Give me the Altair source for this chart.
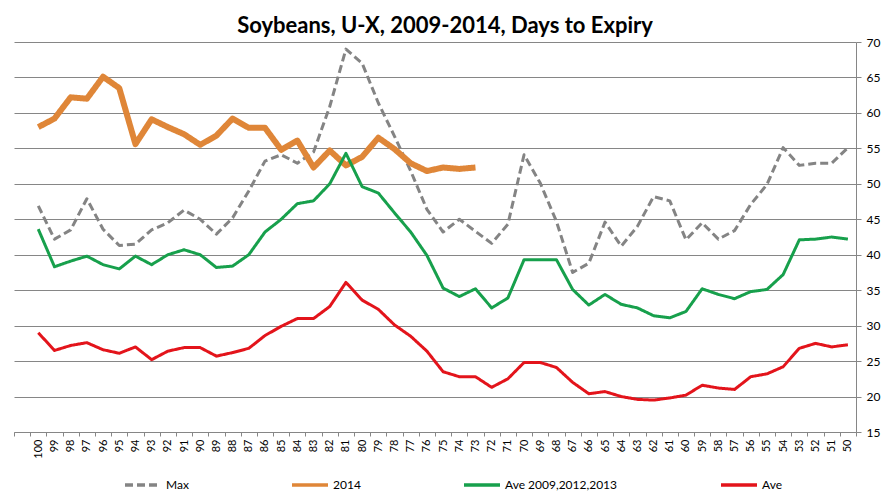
import altair as alt
import pandas as pd

days = [str(d) for d in range(100, 49, -1)]

max_vals = [46.9, 42.2, 43.5, 47.9, 43.6, 41.3, 41.5, 43.5, 44.5, 46.3, 45.0, 42.9, 45.2, 49.0, 53.2, 54.1, 52.9, 54.5,
            60.9, 69.0, 67.0, 61.4, 56.7, 51.8, 46.4, 43.2, 45.0, 43.3, 41.6, 44.3, 54.1, 50.1, 44.7, 37.5, 38.8,
            44.6, 41.2, 44.0, 48.2, 47.6, 42.1, 44.5, 42.2, 43.4, 47.1, 49.9, 55.1, 52.6, 52.9, 52.9, 55.1]

y2014_vals = [58.0, 59.2, 62.2, 62.0, 65.1, 63.5, 55.6, 59.1, 58.0, 57.0, 55.5, 56.8, 59.2, 57.9, 57.9, 54.8, 56.1, 52.3,
              54.7, 52.6, 53.8, 56.5, 54.9, 52.9, 51.8, 52.3, 52.1, 52.3]

ave3_vals = [43.6, 38.3, 39.1, 39.8, 38.6, 38.0, 39.8, 38.6, 40.0, 40.7, 40.0, 38.2, 38.4, 40.0, 43.2, 45.0, 47.2, 47.6,
             50.0, 54.3, 49.6, 48.7, 45.9, 43.2, 39.9, 35.3, 34.1, 35.2, 32.5, 33.9, 39.3, 39.3, 39.3, 35.1, 32.9,
             34.4, 33.0, 32.5, 31.4, 31.1, 32.0, 35.2, 34.4, 33.8, 34.8, 35.1, 37.2, 42.1, 42.2, 42.5, 42.2]

ave_vals = [29.0, 26.5, 27.2, 27.6, 26.6, 26.1, 27.0, 25.2, 26.4, 26.9, 26.9, 25.7, 26.2, 26.8, 28.6, 29.9, 31.0, 31.0,
            32.7, 36.1, 33.6, 32.3, 30.1, 28.5, 26.4, 23.5, 22.8, 22.8, 21.3, 22.5, 24.8, 24.8, 24.1, 22.0, 20.4,
            20.7, 20.0, 19.6, 19.5, 19.8, 20.2, 21.6, 21.2, 21.0, 22.8, 23.2, 24.2, 26.8, 27.5, 27.0, 27.3]

series_names = ["Max", "2014", "Ave 2009,2012,2013", "Ave"]
series_colors = ["#848484", "#DF8638", "#17A04C", "#E3141B"]
series_dash = [[8, 4], [1, 0], [1, 0], [1, 0]]
series_width = [3, 6, 3, 3]

rows = []
for name, w, vals in zip(series_names, series_width, [max_vals, y2014_vals, ave3_vals, ave_vals]):
    for d, v in zip(days, vals):
        rows.append({"day": d, "value": v, "series": name, "w": w})
df = pd.DataFrame(rows)

x_domain = [" "] + days

chart = alt.Chart(df).mark_line(strokeJoin="round").encode(
    x=alt.X("day:O",
            scale=alt.Scale(domain=x_domain, paddingInner=0, paddingOuter=0),
            axis=alt.Axis(title=None, labelAngle=-90, tickBand="extent", tickSize=4,
                          tickColor="#868686", domainColor="#868686", labelPadding=3,
                          labelFont="Lato", labelFontSize=11, labelColor="#000000")),
    y=alt.Y("value:Q",
            scale=alt.Scale(domain=[15, 70], nice=False, zero=False),
            axis=alt.Axis(title=None, orient="right", values=list(range(15, 71, 5)),
                          tickSize=5, tickColor="#868686", domainColor="#868686",
                          gridColor="#868686", gridWidth=1, labelPadding=5,
                          labelFont="Lato", labelFontSize=12, labelColor="#000000")),
    color=alt.Color("series:N", scale=alt.Scale(domain=series_names, range=series_colors),
                    legend=alt.Legend(
                        title=None,
                        symbolDash=alt.ExprRef(expr="datum.value === 'Max' ? [8, 4] : [1, 0]"))),
    strokeDash=alt.StrokeDash("series:N", scale=alt.Scale(domain=series_names, range=series_dash),
                              legend=None),
    strokeWidth=alt.StrokeWidth("w:Q", scale=None, legend=None),
).properties(
    width=842,
    height=390,
    autosize=alt.AutoSizeParams(type="none"),
    padding={"left": 6, "top": 34, "right": 28, "bottom": 61},
    title=alt.TitleParams("Soybeans, U-X, 2009-2014, Days to Expiry", font="Lato", fontSize=22,
                          fontWeight="bold", color="#000000", anchor="middle", dx=10, offset=-19,
                          baseline="alphabetic"),
).configure_view(strokeWidth=0).configure_legend(
    orient="none", legendX=109, legendY=423, direction="horizontal",
    symbolType="stroke", symbolSize=1296, symbolStrokeWidth=3.5, columnPadding=96, labelOffset=3,
    labelFont="Lato", labelFontSize=12, labelColor="#000000",
)

chart.save("out.html", embed_options={"renderer": "svg", "actions": False})
